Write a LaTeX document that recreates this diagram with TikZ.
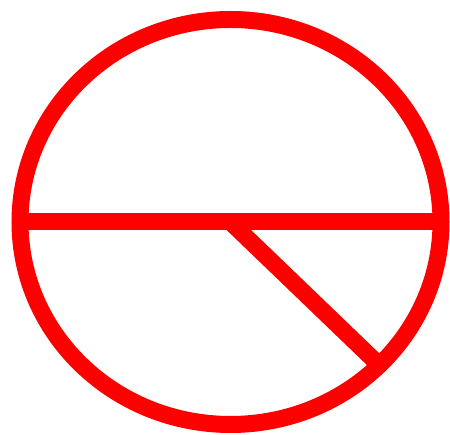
\documentclass[tikz,border=0pt]{standalone}
\usetikzlibrary{calc}
\begin{document}
\begin{tikzpicture}[x=1pt,y=1pt,redline/.style={draw=red,line width=17pt}]
\useasboundingbox (0,0) rectangle (450,435);
\coordinate (c) at (230.5,213);
\coordinate (l) at (20,213);
\coordinate (r) at (441,213);
\coordinate (e) at ($(c)+(-45:210.5 and 202.5)$);
\draw[redline] (c) ellipse [x radius=210.5, y radius=202.5];
\draw[redline] (l) -- (r);
\draw[redline] (c) -- (e);
\end{tikzpicture}
\end{document}
